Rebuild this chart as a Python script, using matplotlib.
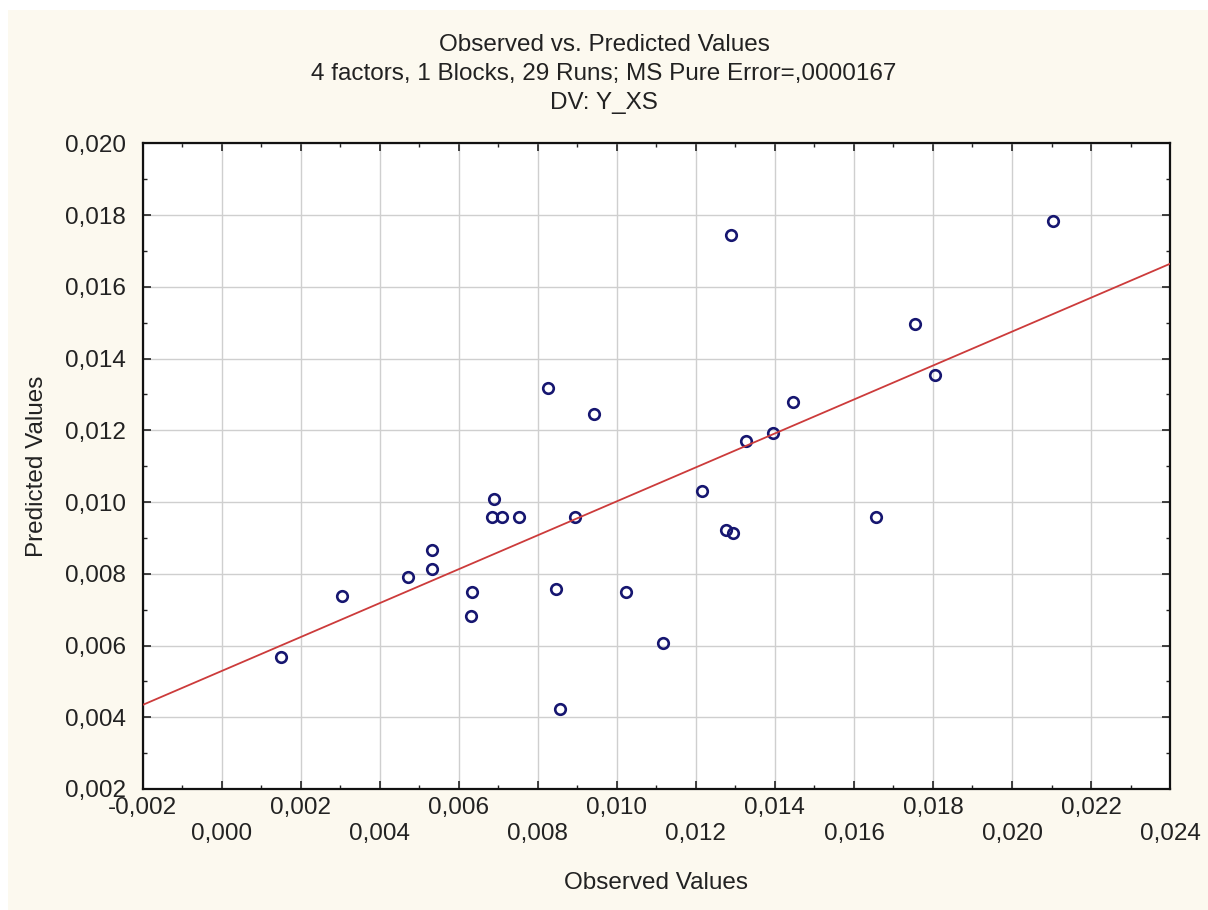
import numpy as np
import matplotlib
matplotlib.use('Agg')
import matplotlib.pyplot as plt
from matplotlib.patches import Rectangle
from matplotlib.ticker import MultipleLocator, FixedLocator

plt.rcParams['font.family'] = ['Liberation Sans', 'DejaVu Sans']

# observed / predicted values of the 29 runs
observed = [0.00149, 0.00305, 0.00472, 0.00532, 0.00532, 0.00634, 0.00630,
            0.00689, 0.00683, 0.00709, 0.00752, 0.00825, 0.00845, 0.00856,
            0.00894, 0.00943, 0.01023, 0.01116, 0.01215, 0.01276, 0.01293,
            0.01289, 0.01327, 0.01395, 0.01445, 0.01657, 0.01755, 0.01804,
            0.02103]
predicted = [0.00568, 0.00737, 0.00791, 0.00867, 0.00812, 0.00748, 0.00683,
             0.01008, 0.00959, 0.00959, 0.00959, 0.01317, 0.00758, 0.00423,
             0.00959, 0.01246, 0.00748, 0.00608, 0.01030, 0.00922, 0.00915,
             0.01745, 0.01171, 0.01192, 0.01279, 0.00959, 0.01496, 0.01354,
             0.01783]

# fitted line (predicted = a + b * observed)
fit_intercept = 0.00529
fit_slope = 0.4731

x_ticks = [-0.002, 0.000, 0.002, 0.004, 0.006, 0.008, 0.010, 0.012,
           0.014, 0.016, 0.018, 0.020, 0.022, 0.024]
y_ticks = [0.002, 0.004, 0.006, 0.008, 0.010, 0.012, 0.014, 0.016,
           0.018, 0.020]

bg = '#fcf9ef'
txt = '#222222'
fs = 17.5

fig = plt.figure(figsize=(12.08, 9.10), dpi=100, facecolor='white')
# cream panel behind the chart, thin white strip on top/left
fig.add_artist(Rectangle((8 / 1208, -0.01), 1, 1.01 - 10 / 910,
                         transform=fig.transFigure, facecolor=bg,
                         edgecolor='none', zorder=-10))

ax = fig.add_axes([0.1181, 0.1330, 0.9686 - 0.1181, 0.8424 - 0.1330])
ax.set_facecolor('white')

ax.set_xlim(x_ticks[0], x_ticks[-1])
ax.set_ylim(y_ticks[0], y_ticks[-1])

ax.grid(True, which='major', color='#cfcfcf', linewidth=1.0)
ax.set_axisbelow(True)

line_x = np.array([x_ticks[0], x_ticks[-1]])
ax.plot(line_x, fit_intercept + fit_slope * line_x, color='#cc3b3b',
        linewidth=1.3, zorder=3)
ax.plot(observed, predicted, linestyle='none', marker='o', markersize=7.6,
        markerfacecolor='none', markeredgecolor='#161670',
        markeredgewidth=1.9, zorder=2)

def fmt(v):
    return f'{v:.3f}'.replace('.', ',')

# x labels alternate between two rows
ax.xaxis.set_major_locator(FixedLocator(x_ticks))
ax.set_xticklabels([fmt(v) if i % 2 == 0 else '\n' + fmt(v)
                    for i, v in enumerate(x_ticks)])
ax.yaxis.set_major_locator(FixedLocator(y_ticks))
ax.set_yticklabels([fmt(v) for v in y_ticks])
ax.xaxis.set_minor_locator(MultipleLocator(0.001))
ax.yaxis.set_minor_locator(MultipleLocator(0.001))

ax.tick_params(which='both', direction='in', top=True, right=True,
               color=txt, labelsize=fs, labelcolor=txt)
ax.tick_params(which='major', length=6, width=1.2)
ax.tick_params(which='minor', length=3, width=1.0)
ax.tick_params(axis='y', pad=12)
ax.tick_params(axis='x', pad=6)

for s in ax.spines.values():
    s.set_linewidth(1.6)
    s.set_color('#111111')

ax.set_xlabel('Observed Values', fontsize=fs, color=txt, labelpad=20)
ax.set_ylabel('Predicted Values', fontsize=fs, color=txt, labelpad=12)

fig.text(0.5, 0.919,
         'Observed vs. Predicted Values\n'
         '4 factors, 1 Blocks, 29 Runs; MS Pure Error=,0000167\n'
         'DV: Y_XS',
         ha='center', va='center', fontsize=fs, color=txt,
         linespacing=1.42)

fig.savefig('out.png', dpi=100, facecolor='white')
